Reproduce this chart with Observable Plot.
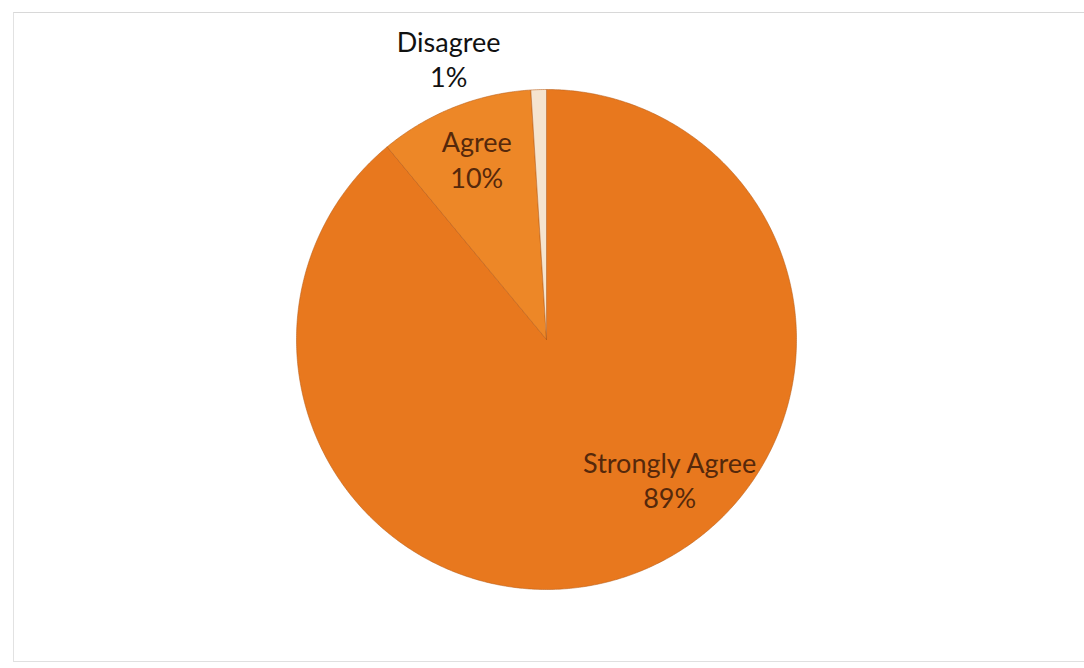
<!DOCTYPE html>
<html>
<head>
<meta charset="utf-8">
<script src="https://cdn.jsdelivr.net/npm/d3@7"></script>
<script src="https://cdn.jsdelivr.net/npm/@observablehq/plot@0.6"></script>
<style>
  html, body { margin: 0; padding: 0; background: #fff; }
  #wrap { position: relative; width: 1084px; height: 668px; overflow: hidden; }
  #frame { position: absolute; left: 13px; top: 12px; width: 1090px; height: 648px;
           border-left: 1px solid #e2e2e2; border-top: 1px solid #d8d8d8; border-bottom: 1px solid #e0e0e0; }
  #chart { position: absolute; left: 0; top: 0; }
</style>
</head>
<body>
<div id="wrap"><div id="frame"></div><div id="chart"></div></div>
<script>
// ---- data ----
const categories = ["Strongly Agree", "Agree", "Disagree"];
const percents = [89, 10, 1];
const percentLabels = ["89%", "10%", "1%"];

// ---- styling / layout (not data) ----
const sliceColors = {"Strongly Agree": "#E8781E", "Agree": "#ED8727", "Disagree": "#F5E4CF"};
const textColors = {"Strongly Agree": "#55280B", "Agree": "#55280B", "Disagree": "#111111"};
// label placement: radius factor and angle shift (degrees) relative to slice mid-angle
const labelLayout = {
  "Strongly Agree": {r: 0.745, shift: -21.6},
  "Agree": {r: 0.775, shift: 0.5},
  "Disagree": {r: 1.19, shift: -17.4}
};

const W = 1084, H = 668, cx = 546, cy = 339, R = 250;

const arcs = d3.pie().sort(null).value(d => d)(percents);

const polyPts = [];
arcs.forEach((a, i) => {
  const name = categories[i];
  polyPts.push({name, x: 0, y: 0});
  const n = Math.max(4, Math.ceil((a.endAngle - a.startAngle) / (Math.PI / 360)));
  for (let k = 0; k <= n; k++) {
    const t = a.startAngle + (a.endAngle - a.startAngle) * k / n;
    polyPts.push({name, x: Math.sin(t), y: Math.cos(t)});
  }
  polyPts.push({name, x: 0, y: 0});
});

const labels = arcs.map((a, i) => {
  const name = categories[i];
  const L = labelLayout[name];
  const mid = (a.startAngle + a.endAngle) / 2 + L.shift * Math.PI / 180;
  return {name, text: name + "\n" + percentLabels[i], x: L.r * Math.sin(mid), y: L.r * Math.cos(mid)};
});

const chart = Plot.plot({
  width: W, height: H,
  margin: 0,
  x: {domain: [-cx / R, (W - cx) / R], axis: null},
  y: {domain: [-(H - cy) / R, cy / R], axis: null},
  style: {background: "transparent"},
  marks: [
    Plot.line(polyPts, {x: "x", y: "y", z: "name", fill: d => sliceColors[d.name],
      stroke: "#B95E18", strokeWidth: 0.8, strokeOpacity: 0.7, curve: "linear"}),
    Plot.text(labels, {x: "x", y: "y", text: "text", fill: d => textColors[d.name],
      fontFamily: "Lato", fontSize: 27, lineHeight: 1.3, textAnchor: "middle"})
  ]
});
document.getElementById("chart").appendChild(chart);
</script>
</body>
</html>
